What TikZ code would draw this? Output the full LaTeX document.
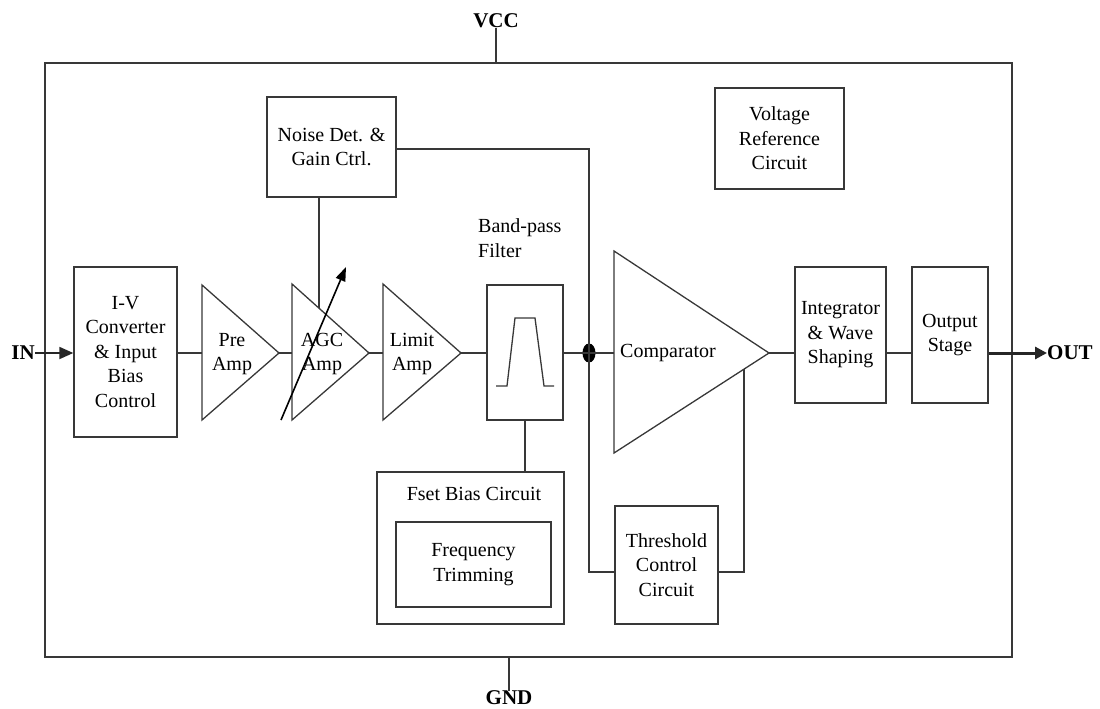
\documentclass[tikz,border=0pt]{standalone}
\usepackage{fontspec}
\setmainfont{Liberation Serif}
\usetikzlibrary{arrows.meta,calc}
\begin{document}
\begin{tikzpicture}[x=1pt,y=-1pt,
  ln/.style={draw=black!78,line width=1.3pt},
  box/.style={ln,rectangle,inner sep=0pt,align=center,
    font=\fontsize{20}{24.5}\selectfont},
  txt/.style={inner sep=0pt,align=center,font=\fontsize{20}{24.5}\selectfont},
  pin/.style={inner sep=0pt,font=\fontsize{21}{25}\selectfont\bfseries},
  tri/.style={ln,line join=miter}
]
\path[use as bounding box] (0,0) rectangle (1100,709);

% chip outline
\node[ln,rectangle,inner sep=0pt,minimum width=967pt,minimum height=594pt] (chip) at (528.5,360) {};

% pins
\node[pin] (vcc) at (496,21) {VCC};
\node[pin] (gnd) at (509,698) {GND};
\node[pin,anchor=east] (in) at (35,353) {IN};
\node[pin,anchor=west] (out) at (1047,353) {OUT};
\draw[ln] (vcc.south) -- (vcc.south |- chip.north);
\draw[ln] (gnd.north |- chip.south) -- (gnd.north);

% boxes
\node[box,minimum width=103pt,minimum height=170pt] (iv) at (125.5,352) {I-V\\Converter\\\& Input\\Bias\\Control};
\node[box,minimum width=129pt,minimum height=100pt] (noise) at (331.5,147) {Noise Det. \&\\Gain Ctrl.};
\node[box,minimum width=129pt,minimum height=101pt] (vref) at (779.5,138.5) {Voltage\\Reference\\Circuit};
\node[box,minimum width=76pt,minimum height=135pt] (bp) at (525,352.5) {};
\node[txt,align=left,anchor=west] (bplabel) at (478,238) {Band-pass\\Filter};
\node[box,minimum width=91pt,minimum height=136pt] (integ) at (840.5,335) {Integrator\\\& Wave\\Shaping};
\node[box,minimum width=76pt,minimum height=136pt] (outst) at (950,335) {Output\\Stage};
\node[box,minimum width=187pt,minimum height=152pt] (fset) at (470.5,548) {};
\node[txt] (fsetlabel) at (474,494) {Fset Bias Circuit};
\node[box,minimum width=155pt,minimum height=85pt] (trim) at (473.5,564.5) {Frequency\\Trimming};
\node[box,minimum width=103pt,minimum height=118pt] (thr) at (666.5,565) {Threshold\\Control\\Circuit};

% amplifier triangles
\coordinate (pre-in) at (202,353);
\coordinate (pre-out) at (279,353);
\draw[tri] (202,285) -- (279,353) -- (202,420) -- cycle;
\node[txt] (pretxt) at (232,354) {Pre\\Amp};

\coordinate (agc-in) at (292,353);
\coordinate (agc-out) at (369,353);
\coordinate (agc-ctl) at (319,308);
\draw[tri] (292,284) -- (369,353) -- (292,420) -- cycle;
\node[txt] (agctxt) at (322,354) {AGC\\Amp};

\coordinate (lim-in) at (383,353);
\coordinate (lim-out) at (461,353);
\draw[tri] (383,284) -- (461,353) -- (383,420) -- cycle;
\node[txt] (limtxt) at (412,354) {Limit\\Amp};

\coordinate (cmp-in) at (614,353);
\coordinate (cmp-out) at (769,353);
\coordinate (cmp-fb) at (744,369);
\draw[tri] (614,251) -- (769,353) -- (614,453) -- cycle;
\node[txt] (cmptxt) at (668,353) {Comparator};

% band-pass symbol
\draw[ln,line join=miter] (496,386) -- (507,386) -- (515,318) -- (535,318) -- (544,386) -- (554,386);

% junction dot
\coordinate (dot) at (589,353);
\fill[black] (dot) ellipse [x radius=6.5pt, y radius=9.5pt];

% signal path
\draw[draw=black!85,line width=1.8pt,-{Triangle[length=14pt,width=12pt]}] (in.east |- pre-in) -- (iv.west |- pre-in);
\draw[ln] (iv.east |- pre-in) -- (pre-in);
\draw[ln] (pre-out) -- (agc-in);
\draw[ln] (agc-out) -- (lim-in);
\draw[ln] (lim-out) -- (bp.west |- lim-out);
\draw[ln] (bp.east |- dot) -- (dot) -- (cmp-in);
\draw[ln] (cmp-out) -- (integ.west |- cmp-out);
\draw[ln] (integ.east |- cmp-out) -- (outst.west |- cmp-out);
\draw[draw=black!85,line width=3pt,-{Triangle[length=12pt,width=12pt]}] (outst.east |- cmp-out) -- (out.west |- cmp-out);

% control paths
\coordinate (thr-in) at (615,572);
\coordinate (thr-out) at (718,572);
\draw[ln] (noise.east |- 0,149) -| (dot) |- (thr-in);
\draw[ln] (thr-out) -| (cmp-fb);
\draw[ln] (agc-ctl |- noise.south) -- (agc-ctl);
\draw[ln] (bp.south) -- (bp.south |- fset.north);

% AGC variable-gain arrow
\draw[draw=black,line width=1.6pt,-{Triangle[length=14pt,width=10pt]}] (281,420) -- (346,267);
\end{tikzpicture}
\end{document}
